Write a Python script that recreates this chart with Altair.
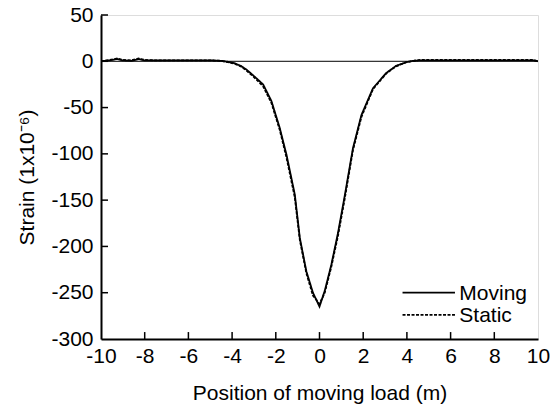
import altair as alt
import pandas as pd

pos = [-10, -9.6, -9.26, -9.0, -8.6, -8.28, -8.0, -7.5, -7, -6, -5, -4.5, -4.2, -3.9, -3.6,
       -3.34, -3.0, -2.58, -2.2, -1.82, -1.51, -1.13, -0.9, -0.6, -0.3, 0.0, 0.24, 0.54,
       0.85, 1.15, 1.53, 1.92, 2.45, 3.06, 3.5, 3.97, 4.3, 4.6, 5, 6, 7, 8, 9, 9.8, 10]
moving = [0, 1, 2.5, 1, 0.5, 2.5, 1, 1, 1, 1, 1, 0.5, -0.5, -2, -5,
          -9, -16, -25, -43, -72, -101, -144, -191, -227, -250, -265, -248, -220,
          -185, -146, -94, -58, -29, -12.6, -5, -1, 0.5, 1, 1, 1, 1, 1, 1, 1, 0]
static = [0, 1.5, 3, 1.5, 1, 3, 1.5, 1, 1, 1, 1, 0.5, -1, -2.5, -5.5,
          -10, -17, -27, -45, -74, -104, -147, -193, -229, -253, -262, -250, -222,
          -188, -149, -96, -60, -30, -13, -5.5, -1, 0.5, 1.5, 1.5, 1.5, 1.5, 1.5, 1.5, 1.5, 0]
x_ticks = [-10, -8, -6, -4, -2, 0, 2, 4, 6, 8, 10]
y_ticks = [-300, -250, -200, -150, -100, -50, 0, 50]
series = ["Moving", "Static"]

# legend entries (in data units)
legend_y = [-250, -274]
legend_x0 = [3.8, 3.8]
legend_x1 = [6.2, 6.2]
legend_tx = [6.4, 6.4]

rows = []
for i, p in enumerate(pos):
    rows.append({"x": p, "y": moving[i], "s": series[0]})
    rows.append({"x": p, "y": static[i], "s": series[1]})
df = pd.DataFrame(rows)

FONT = "Liberation Sans"
FS = 21
xs = alt.Scale(domain=[-10, 10], nice=False, zero=False)
ys = alt.Scale(domain=[-300, 50], nice=False, zero=False)
dash = alt.Scale(domain=series, range=[[1, 0], [3, 1.5]])

x_axis = alt.Axis(values=x_ticks, title="Position of moving load (m)", labelExpr="datum.value + ''",
                  titlePadding=16, labelFlush=False, labelPadding=6)
y_axis = alt.Axis(values=y_ticks, title="Strain (1x10⁻⁶)", labelExpr="datum.value + ''",
                  titlePadding=13, labelPadding=8)

X = lambda f: alt.X(f, scale=xs, axis=x_axis)
Y = lambda f: alt.Y(f, scale=ys, axis=y_axis)

lines = alt.Chart(df).mark_line(color="black", strokeWidth=1.8, clip=True).encode(
    x=X("x:Q"), y=Y("y:Q"),
    strokeDash=alt.StrokeDash("s:N", scale=dash, legend=None),
    detail="s:N",
)

zero = alt.Chart(pd.DataFrame({"y": [0]})).mark_rule(color="black", strokeWidth=1).encode(
    y=Y("y:Q"))

xt = pd.DataFrame({"x": x_ticks[1:-1], "y": [-300] * (len(x_ticks) - 2),
                   "y2": [-300 + 7.5] * (len(x_ticks) - 2)})
xtick = alt.Chart(xt).mark_rule(color="black", strokeWidth=1.5).encode(
    x=X("x:Q"), y=Y("y:Q"), y2="y2:Q")

yt = pd.DataFrame({"y": y_ticks[1:], "x": [-10] * (len(y_ticks) - 1),
                   "x2": [-10 + 0.32] * (len(y_ticks) - 1)})
ytick = alt.Chart(yt).mark_rule(color="black", strokeWidth=1.5).encode(
    y=Y("y:Q"), x=X("x:Q"), x2="x2:Q")

leg = pd.DataFrame({"s": series, "y": legend_y, "x0": legend_x0, "x1": legend_x1, "tx": legend_tx})
leg_lines = alt.Chart(leg).mark_rule(color="black", strokeWidth=1.8).encode(
    x=X("x0:Q"), x2="x1:Q", y=Y("y:Q"),
    strokeDash=alt.StrokeDash("s:N", scale=dash, legend=None))
leg_text = alt.Chart(leg).mark_text(align="left", baseline="middle", fontSize=FS, font=FONT,
                                    color="black", dy=1).encode(
    x=X("tx:Q"), y=Y("y:Q"), text="s:N")

chart = alt.layer(zero, xtick, ytick, lines, leg_lines, leg_text).properties(
    width=437, height=324,
    padding={"left": 101, "top": 15, "right": 21, "bottom": 71},
    autosize="none",
).configure_view(stroke="black", strokeWidth=1.2).configure(background="white").configure_axis(
    ticks=False, domainColor="black", domainWidth=2, grid=False,
    labelFontSize=FS, titleFontSize=FS, labelFont=FONT, titleFont=FONT,
    labelColor="black", titleColor="black", titleFontWeight="normal")

chart.save("out.html", embed_options={"renderer": "svg", "actions": False})
